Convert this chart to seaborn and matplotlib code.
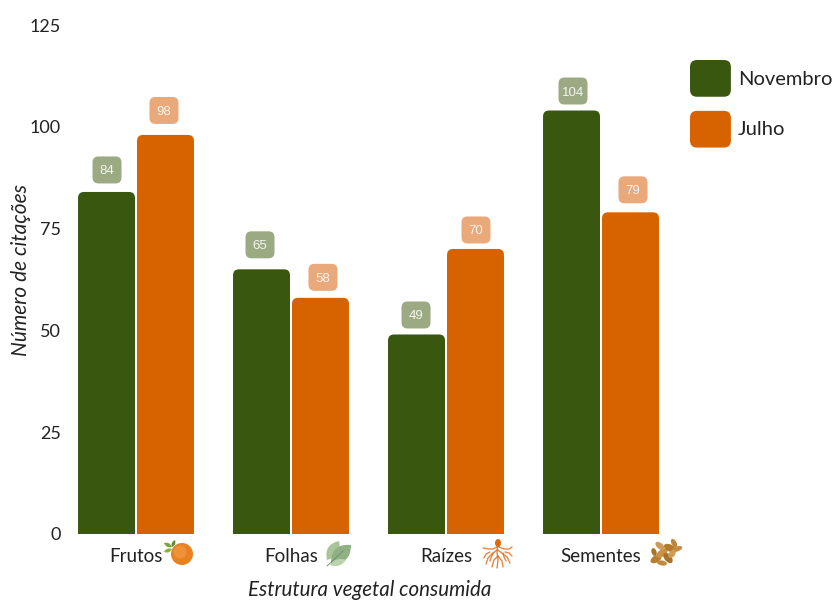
import matplotlib
matplotlib.use("Agg")
import matplotlib.pyplot as plt
import pandas as pd
import seaborn as sns
from matplotlib.legend_handler import HandlerPatch
from matplotlib.patches import Circle, Ellipse, FancyBboxPatch, Patch, PathPatch
from matplotlib.path import Path

categories = ["Frutos", "Folhas", "Raízes", "Sementes"]
novembro = [84, 65, 49, 104]
julho = [98, 58, 70, 79]
series_names = ["Novembro", "Julho"]
series_colors = ["#3A5710", "#D76300"]
badge_colors = ["#9CAA84", "#E9A97A"]
y_ticks = [0, 25, 50, 75, 100, 125]

W, H = 835, 601
LEFT, RIGHT, BOTTOM, TOP = 58.5, 678.5, 534, 25
INK = "#222222"

# Badges are placed by hand, so each one sits slightly off its bar's centre (pixels).
badge_nudge_x = [[0.5, -1.5, -0.5, 1.5], [-1.5, 2.5, 0.5, 2.5]]
badge_nudge_y = [[-0.5, 2, -3, -3], [2, -2, -3.5, 0]]

sns.set_theme(style="white")
plt.rcParams["font.family"] = ["Lato", "DejaVu Sans"]

df = pd.DataFrame({
    "categoria": categories * 2,
    "mes": [series_names[0]] * 4 + [series_names[1]] * 4,
    "citacoes": novembro + julho,
})

fig = plt.figure(figsize=(W / 100, H / 100), dpi=100, facecolor="white")
ax = fig.add_axes([LEFT / W, (H - BOTTOM) / H, (RIGHT - LEFT) / W, (BOTTOM - TOP) / H])

sns.barplot(
    data=df, x="categoria", y="citacoes", hue="mes", hue_order=series_names,
    palette=series_colors, width=0.761, gap=0.034, legend=False, ax=ax,
    saturation=1, errorbar=None,
)
ax.set_xlim(-0.5, 3.5)
ax.set_ylim(0, 125)
ax.set_yticks(y_ticks)

px_x = 4 / (RIGHT - LEFT)          # x data units per pixel
px_y = 125 / (BOTTOM - TOP)        # y data units per pixel
aspect = px_y / px_x

# Swap the square bars for rounded ones and add the value badge above each.
for s, (container, badge_color) in enumerate(zip(ax.containers, badge_colors)):
    for c, bar in enumerate(list(container.patches)):
        x, w, h = bar.get_x(), bar.get_width(), bar.get_height()
        color = bar.get_facecolor()
        bar.set_visible(False)
        r = 6 * px_x
        ax.add_patch(FancyBboxPatch(
            (x + r, -20), w - 2 * r, h + 20 - r * aspect,
            boxstyle=f"round,pad={r},rounding_size={r}",
            mutation_aspect=aspect, facecolor=color, edgecolor="none", zorder=3,
        ))
        cx = x + w / 2 + badge_nudge_x[s][c] * px_x
        cy = h + (22.5 + badge_nudge_y[s][c]) * px_y
        bw, bh = 29 * px_x, 27 * px_y
        br = 6 * px_x
        ax.add_patch(FancyBboxPatch(
            (cx - bw / 2 + br, cy - bh / 2 + br * aspect),
            bw - 2 * br, bh - 2 * br * aspect,
            boxstyle=f"round,pad={br},rounding_size={br}",
            mutation_aspect=aspect, facecolor=badge_color, edgecolor="none",
            zorder=3, clip_on=False,
        ))
        ax.text(cx, cy, f"{h:.0f}", ha="center", va="center_baseline", color="#F6F4EE",
                fontsize=9.5, family=["Liberation Sans", "DejaVu Sans"], zorder=4)

sns.despine(ax=ax, left=True, bottom=True)
ax.tick_params(axis="both", length=0, colors=INK)
ax.tick_params(axis="y", pad=-1.8, labelsize=13)
ax.tick_params(axis="x", pad=10, labelsize=13.5)
ax.set_xlabel("Estrutura vegetal consumida", style="italic", fontsize=14.8, color=INK, va="center")
ax.set_ylabel("Número de citações", style="italic", fontsize=15, color=INK, va="center")
ax.xaxis.set_label_coords((370 - LEFT) / (RIGHT - LEFT), (BOTTOM - 590) / (BOTTOM - TOP))
ax.yaxis.set_label_coords((21 - LEFT) / (RIGHT - LEFT), (BOTTOM - 270) / (BOTTOM - TOP))


class RoundedHandle(HandlerPatch):
    def create_artists(self, legend, orig_handle, xdescent, ydescent, width, height, fontsize, trans):
        r = 5
        box = FancyBboxPatch(
            (-xdescent + r, -ydescent + r), width - 2 * r, height - 2 * r,
            boxstyle=f"round,pad={r},rounding_size={r}",
            facecolor=orig_handle.get_facecolor(), edgecolor="none", transform=trans,
        )
        return [box]


handles = [Patch(facecolor=c, label=n) for n, c in zip(series_names, series_colors)]
ax.legend(
    handles=handles, loc="upper left", bbox_to_anchor=(690 / W, (H - 60) / H),
    bbox_transform=fig.transFigure, frameon=False, fontsize=14.5, labelcolor=INK,
    borderpad=0, borderaxespad=0, handlelength=2.03, handleheight=2.43,
    labelspacing=0.7, handletextpad=0.35,
    handler_map={Patch: RoundedHandle()},
)

# Small pictograms next to the category names, drawn on a pixel-scaled overlay.
ov = fig.add_axes([0, 0, 1, 1], facecolor="none")
ov.set_xlim(0, W)
ov.set_ylim(H, 0)
ov.axis("off")


def leaf(x0, y0, x1, y1, bulge, color, z=5):
    mx, my = (x0 + x1) / 2, (y0 + y1) / 2
    dx, dy = x1 - x0, y1 - y0
    nx, ny = -dy * bulge, dx * bulge
    verts = [(x0, y0), (mx + nx, my + ny), (x1, y1), (mx - nx, my - ny), (x0, y0)]
    codes = [Path.MOVETO, Path.CURVE3, Path.CURVE3, Path.CURVE3, Path.CURVE3]
    ov.add_patch(PathPatch(Path(verts, codes), facecolor=color, edgecolor="none", zorder=z))


# Orange
ov.add_patch(Circle((182, 554), 11, facecolor="#E8811F", edgecolor="none", zorder=5))
ov.add_patch(Circle((180, 552), 6.5, facecolor="#EE9138", edgecolor="none", zorder=6))
leaf(172, 547, 164, 543, 0.45, "#7FA43A")
leaf(172, 547, 175, 540, 0.45, "#5F8A2E")
leaf(172, 549, 164, 552, 0.45, "#8DB040")

# Leaves
leaf(327, 560, 339, 541, 0.5, "#A9C49A")
leaf(331, 563, 351, 545, 0.55, "#8FB183")
leaf(330, 565, 346, 560, 0.4, "#BCD2AE")
ov.plot([327, 343], [566, 551], color="#6F9367", lw=0.7, zorder=6)

# Root
root = "#DA6A14"
ov.add_patch(Ellipse((498, 543), 6, 8, facecolor=root, edgecolor="none", zorder=5))
root_lines = [
    ([498, 497, 498, 497], [545, 552, 560, 568]),
    ([497, 493, 488, 483], [547, 549, 549, 548]),
    ([499, 504, 509, 512], [547, 549, 549, 547]),
    ([497, 492, 488, 486], [550, 554, 558, 564]),
    ([498, 503, 507, 510], [550, 554, 557, 563]),
    ([498, 494, 492], [556, 560, 567]),
    ([498, 502, 503], [556, 561, 567]),
    ([490, 486, 484], [552, 554, 558]),
    ([505, 509, 512], [552, 553, 556]),
    ([493, 491, 490], [553, 558, 561]),
    ([503, 504, 506], [553, 557, 561]),
]
for xs, ys in root_lines:
    ov.plot(xs, ys, color=root, lw=1.0, alpha=0.8, solid_capstyle="round", zorder=5)

# Seeds
seeds = [
    (656, 559, 12, 7, -30, "#B87F33"), (662, 553, 13, 7, -35, "#C99248"),
    (670, 548, 13, 7, 25, "#B47A2E"), (660, 546, 11, 6, 40, "#D09C55"),
    (677, 549, 11, 5, -20, "#C68D40"), (668, 558, 12, 7, 50, "#A9722B"),
    (662, 563, 10, 5, 10, "#C2893C"), (674, 543, 9, 5, 60, "#BE853A"),
    (672, 554, 9, 6, -50, "#D09C55"), (654, 552, 8, 5, 70, "#A9722B"),
]
for sx, sy, a, b, ang, c in seeds:
    ov.add_patch(Ellipse((sx, sy), a, b, angle=ang, facecolor=c, edgecolor="none", zorder=5))

fig.savefig("out.png", dpi=100, facecolor="white")
